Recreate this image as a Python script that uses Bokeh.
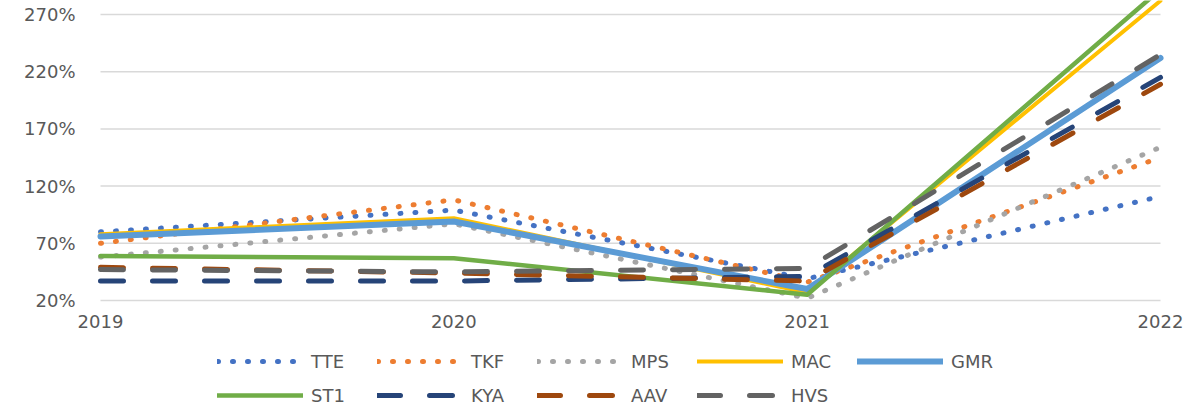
from bokeh.plotting import figure
from bokeh.models import Range1d, FixedTicker, Legend, LegendItem
from bokeh.embed import file_html
from bokeh.resources import INLINE

years = [2019, 2020, 2021, 2022]
year_labels = ["2019", "2020", "2021", "2022"]
y_ticks = [20, 70, 120, 170, 220, 270]
y_tick_labels = ["20%", "70%", "120%", "170%", "220%", "270%"]

TTE = [80, 99, 39, 111]
TKF = [70, 108, 36, 145]
MPS = [58, 87, 22, 154]
MAC = [78, 92, 27, 282]
GMR = [76, 89, 30, 232]
ST1 = [59, 57, 25, 292]
KYA = [37, 37, 41, 215]
AAV = [49, 44, 37, 209]
HVS = [47, 45, 48, 235]

names = ["TTE", "TKF", "MPS", "MAC", "GMR", "ST1", "KYA", "AAV", "HVS"]
series = [TTE, TKF, MPS, MAC, GMR, ST1, KYA, AAV, HVS]
colors = ["#4472C4", "#ED7D31", "#A5A5A5", "#FFC000", "#5B9BD5",
          "#70AD47", "#264478", "#9E480E", "#636363"]
dashes = ["1 14", "1 14", "1 14", "solid", "solid", "solid",
          "23 29", "23 29", "23 29"]
widths = [5, 5, 5, 4, 6, 4.5, 5, 5, 5]

FONT = "DejaVu Sans"
TXT = "#595959"

# frame fills the whole canvas; 2019 sits at x=100px, 2022 at 1160px,
# the 20% line at y=300px and 270% at y=14px
px_per_year = (1160 - 100) / 3.0
x0 = 2019 - 100 / px_per_year
x1 = 2022 + (1197 - 1160) / px_per_year
px_per_pct = (300 - 14) / 250.0
y0 = 20 - (409 - 300) / px_per_pct
y1 = 20 + 300 / px_per_pct

p = figure(width=1197, height=409, output_backend="svg", toolbar_location=None,
           x_range=Range1d(x0, x1), y_range=Range1d(y0, y1),
           min_border_left=0, min_border_right=0, min_border_top=0,
           min_border_bottom=0)
p.outline_line_color = None
p.background_fill_color = "white"
p.border_fill_color = "white"
p.xgrid.grid_line_color = None
p.ygrid.grid_line_color = None

# horizontal gridlines spanning only the category extent
p.segment(x0=[years[0]] * len(y_ticks), x1=[years[-1]] * len(y_ticks),
          y0=y_ticks, y1=y_ticks, line_color="#d9d9d9", line_width=1.5)

p.yaxis.ticker = FixedTicker(ticks=y_ticks)
p.yaxis.major_label_overrides = dict(zip(y_ticks, y_tick_labels))
p.yaxis.fixed_location = years[0]
p.xaxis.ticker = FixedTicker(ticks=years)
p.xaxis.major_label_overrides = dict(zip(years, year_labels))
p.xaxis.fixed_location = y_ticks[0]
for ax in (p.xaxis, p.yaxis):
    ax.axis_line_color = None
    ax.major_tick_line_color = None
    ax.minor_tick_line_color = None
    ax.major_tick_out = 0
    ax.major_tick_in = 0
    ax.major_label_text_font = FONT
    ax.major_label_text_font_size = "18px"
    ax.major_label_text_color = TXT
p.yaxis.major_label_standoff = 25
p.xaxis.major_label_standoff = 14

items = []
for name, vals, c, d, w in zip(names, series, colors, dashes, widths):
    r = p.line(years, vals, line_color=c, line_width=w, line_dash=d,
               line_cap="round", line_join="round")
    items.append(LegendItem(label=name, renderers=[r]))

legend = Legend(items=items, location=(217, 0), orientation="horizontal",
                ncols=5, glyph_width=86, glyph_height=28, label_standoff=8,
                label_width=60, spacing=6, padding=0, margin=0,
                border_line_color=None, background_fill_alpha=0,
                label_text_font=FONT, label_text_font_size="18px",
                label_text_color=TXT)
p.add_layout(legend, "center")

open("out.html", "w").write(file_html(p, INLINE))
